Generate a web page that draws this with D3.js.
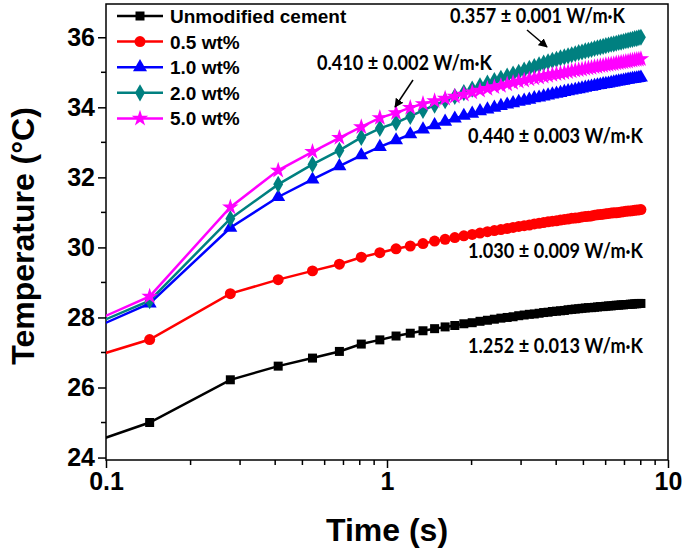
<!DOCTYPE html>
<html>
<head>
<meta charset="utf-8">
<script src="https://cdn.jsdelivr.net/npm/d3@7"></script>
<style>
  body { margin: 0; background: #fff; }
  svg { display: block; }
</style>
</head>
<body>
<svg id="chart" width="685" height="556"></svg>
<script>
// time points (s)
const times = [0.010, 0.143, 0.277, 0.410, 0.543, 0.677, 0.810, 0.943, 1.077, 1.210,
  1.343, 1.477, 1.610, 1.743, 1.877, 2.010, 2.143, 2.277, 2.410, 2.543,
  2.677, 2.810, 2.943, 3.077, 3.210, 3.343, 3.477, 3.610, 3.743, 3.877,
  4.010, 4.143, 4.277, 4.410, 4.543, 4.677, 4.810, 4.943, 5.077, 5.210,
  5.343, 5.477, 5.610, 5.743, 5.877, 6.010, 6.143, 6.277, 6.410, 6.543,
  6.677, 6.810, 6.943, 7.077, 7.210, 7.343, 7.477, 7.610, 7.743, 7.877, 8.010];

const unmodified = [21.80, 25.00, 26.22, 26.61, 26.84, 27.03, 27.24, 27.36, 27.47,
  27.55, 27.62, 27.68, 27.73, 27.77, 27.82, 27.85, 27.89, 27.92, 27.95, 27.98, 28.00,
  28.02, 28.05, 28.07, 28.09, 28.10, 28.12, 28.14, 28.15, 28.17, 28.18,
  28.19, 28.20, 28.22, 28.23, 28.24, 28.25, 28.26, 28.27, 28.28, 28.28,
  28.29, 28.30, 28.31, 28.31, 28.32, 28.33, 28.33, 28.34, 28.35, 28.35,
  28.36, 28.36, 28.37, 28.37, 28.38, 28.38, 28.39, 28.39, 28.40, 28.40];

const wt05 = [24.54, 27.37, 28.68, 29.08, 29.33, 29.52, 29.72, 29.85, 29.96,
  30.04, 30.11, 30.18, 30.23, 30.28, 30.33, 30.37, 30.41, 30.45, 30.48, 30.51, 30.54,
  30.57, 30.60, 30.62, 30.64, 30.67, 30.69, 30.71, 30.73, 30.75, 30.76,
  30.78, 30.80, 30.81, 30.83, 30.84, 30.85, 30.87, 30.88, 30.89, 30.90,
  30.92, 30.93, 30.94, 30.95, 30.96, 30.97, 30.98, 30.99, 30.99, 31.00,
  31.01, 31.02, 31.03, 31.04, 31.04, 31.05, 31.06, 31.07, 31.07, 31.08];

const wt10 = [24.30, 28.40, 30.56, 31.44, 31.94, 32.32, 32.63, 32.87, 33.06,
  33.23, 33.37, 33.49, 33.59, 33.68, 33.76, 33.82, 33.89, 33.94, 33.99, 34.04, 34.08,
  34.12, 34.16, 34.19, 34.22, 34.26, 34.28, 34.31, 34.34, 34.37, 34.39,
  34.41, 34.44, 34.46, 34.48, 34.50, 34.52, 34.54, 34.56, 34.58, 34.59,
  34.61, 34.63, 34.64, 34.66, 34.67, 34.68, 34.70, 34.71, 34.73, 34.74,
  34.75, 34.76, 34.78, 34.79, 34.80, 34.81, 34.82, 34.83, 34.84, 34.85];

const wt20 = [24.53, 28.48, 30.82, 31.80, 32.37, 32.77, 33.14, 33.40, 33.56,
  33.74, 33.91, 34.06, 34.19, 34.31, 34.42, 34.52, 34.61, 34.69, 34.76, 34.83, 34.89,
  34.95, 35.00, 35.06, 35.11, 35.16, 35.21, 35.26, 35.30, 35.34, 35.37,
  35.41, 35.44, 35.47, 35.50, 35.53, 35.56, 35.58, 35.61, 35.63, 35.65,
  35.68, 35.70, 35.72, 35.74, 35.76, 35.78, 35.80, 35.81, 35.83, 35.85,
  35.86, 35.88, 35.90, 35.91, 35.93, 35.94, 35.96, 35.97, 35.99, 36.00];

const wt50 = [24.50, 28.60, 31.15, 32.20, 32.73, 33.13, 33.44, 33.70, 33.84,
  33.99, 34.10, 34.18, 34.25, 34.31, 34.37, 34.43, 34.48, 34.53, 34.58, 34.62, 34.66,
  34.70, 34.74, 34.77, 34.80, 34.83, 34.85, 34.88, 34.90, 34.93, 34.95,
  34.97, 34.99, 35.01, 35.03, 35.05, 35.07, 35.08, 35.10, 35.12, 35.13,
  35.15, 35.16, 35.18, 35.19, 35.21, 35.22, 35.23, 35.24, 35.26, 35.27,
  35.28, 35.29, 35.30, 35.31, 35.33, 35.34, 35.35, 35.36, 35.37, 35.38];

const seriesNames = ["Unmodified cement", "0.5 wt%", "1.0 wt%", "2.0 wt%", "5.0 wt%"];
const seriesValues = [unmodified, wt05, wt10, wt20, wt50];
const seriesColors = ["#000000", "#ff0000", "#0000ff", "#008080", "#ff00ff"];

const xTickLabels = [0.1, 1, 10];
const yTickLabels = [24, 26, 28, 30, 32, 34, 36];

// thermal conductivity labels
const kLabels = ["0.357 \u00b1 0.001 W/m\u00b7K", "0.410 \u00b1 0.002 W/m\u00b7K",
  "0.440 \u00b1 0.003 W/m\u00b7K", "1.030 \u00b1 0.009 W/m\u00b7K", "1.252 \u00b1 0.013 W/m\u00b7K"];

const svg = d3.select("#chart");
const margin = { top: 4, left: 106, right: 17, bottom: 96 };
const width = 685, height = 556;

const x = d3.scaleLog().domain([0.1, 10]).range([margin.left, width - margin.right]);
const y = d3.scaleLinear().domain([23.93, 36.95]).range([height - margin.bottom, margin.top]);

const font = "'Liberation Sans', Arial, sans-serif";

// clip area
svg.append("clipPath").attr("id", "clip")
  .append("rect")
  .attr("x", margin.left).attr("y", margin.top)
  .attr("width", width - margin.left - margin.right)
  .attr("height", height - margin.top - margin.bottom);

// axes
const minorX = [0.2, 0.3, 0.4, 0.5, 0.6, 0.7, 0.8, 0.9, 2, 3, 4, 5, 6, 7, 8, 9];
const xAxis = svg.append("g").attr("transform", `translate(0, ${height - margin.bottom})`);
xAxis.call(d3.axisBottom(x).tickValues(xTickLabels).tickSize(8).tickSizeOuter(0)
  .tickFormat(d => d));
xAxis.append("g").selectAll("line").data(minorX).enter().append("line")
  .attr("x1", d => x(d)).attr("x2", d => x(d))
  .attr("y1", 0).attr("y2", 5)
  .attr("stroke", "#000").attr("stroke-width", 1.5);

const minorY = [25, 27, 29, 31, 33, 35];
const yAxis = svg.append("g").attr("transform", `translate(${margin.left}, 0)`);
yAxis.call(d3.axisLeft(y).tickValues(yTickLabels).tickSize(8).tickSizeOuter(0));
yAxis.append("g").selectAll("line").data(minorY).enter().append("line")
  .attr("y1", d => y(d)).attr("y2", d => y(d))
  .attr("x1", 0).attr("x2", -5)
  .attr("stroke", "#000").attr("stroke-width", 1.5);

[xAxis, yAxis].forEach(g => {
  g.select(".domain").remove();
  g.selectAll(".tick line").attr("stroke-width", 1.5);
  g.selectAll(".tick text")
    .style("font-family", font).style("font-weight", "bold")
    .style("font-size", "25px").attr("fill", "#000");
});
xAxis.selectAll(".tick text").attr("dy", "0.71em").attr("y", 12);
yAxis.selectAll(".tick text").attr("x", -11);

// frame
svg.append("rect")
  .attr("x", margin.left).attr("y", margin.top)
  .attr("width", width - margin.left - margin.right)
  .attr("height", height - margin.top - margin.bottom)
  .attr("fill", "none").attr("stroke", "#000").attr("stroke-width", 1.5);

// axis titles
svg.append("text")
  .attr("x", (margin.left + width - margin.right) / 2).attr("y", 541)
  .attr("text-anchor", "middle")
  .style("font-family", font).style("font-weight", "bold").style("font-size", "32px")
  .text("Time (s)");

svg.append("text")
  .attr("transform", `translate(34, ${(margin.top + height - margin.bottom) / 2 + 4}) rotate(-90)`)
  .attr("text-anchor", "middle")
  .style("font-family", font).style("font-weight", "bold").style("font-size", "32px")
  .text("Temperature (\u00b0C)");

// symbols
const symbols = [
  d3.symbol().type(d3.symbolSquare).size(81),
  d3.symbol().type(d3.symbolCircle).size(95),
  d3.symbol().type(d3.symbolTriangle).size(85),
  d3.symbol().type(d3.symbolDiamond).size(85),
  d3.symbol().type(d3.symbolStar).size(85)
];

const line = d3.line().x(d => x(d[0])).y(d => y(d[1]));
const plot = svg.append("g").attr("clip-path", "url(#clip)");

seriesValues.forEach((vals, i) => {
  const pts = times.map((t, j) => [t, vals[j]]);
  const g = plot.append("g");
  g.append("path").datum(pts)
    .attr("d", line)
    .attr("fill", "none")
    .attr("stroke", seriesColors[i])
    .attr("stroke-width", 2.5);
  g.selectAll("path.mk").data(pts).enter().append("path")
    .attr("class", "mk")
    .attr("d", symbols[i])
    .attr("transform", d => `translate(${x(d[0])}, ${y(d[1])})`)
    .attr("fill", seriesColors[i]);
});

// legend
const legend = svg.append("g");
seriesNames.forEach((name, i) => {
  const ly = 16 + i * 25.6;
  legend.append("line")
    .attr("x1", 117).attr("x2", 163).attr("y1", ly).attr("y2", ly)
    .attr("stroke", seriesColors[i]).attr("stroke-width", 2.5);
  legend.append("path")
    .attr("d", symbols[i])
    .attr("transform", `translate(140, ${ly})`)
    .attr("fill", seriesColors[i]);
  legend.append("text")
    .attr("x", 170).attr("y", ly + 7)
    .style("font-family", font).style("font-weight", "bold").style("font-size", "19px")
    .text(name);
});

// conductivity annotations
const kPos = [[450, 23], [317, 70], [468, 143], [468, 257.5], [468, 353]];
kLabels.forEach((txt, i) => {
  svg.append("text")
    .attr("x", kPos[i][0]).attr("y", kPos[i][1])
    .attr("textLength", 175).attr("lengthAdjust", "spacingAndGlyphs")
    .style("font-family", "Lato, 'Open Sans', sans-serif")
    .style("font-weight", "bold").style("font-size", "20px")
    .text(txt);
});

// arrows
svg.append("defs").append("marker")
  .attr("id", "head").attr("viewBox", "0 0 10 10")
  .attr("refX", 9).attr("refY", 5)
  .attr("markerWidth", 6).attr("markerHeight", 6)
  .attr("orient", "auto")
  .append("path").attr("d", "M0,0 L10,5 L0,10 Z").attr("fill", "#000");

const arrows = [[527, 30, 547, 47], [413, 80, 395, 107]];
arrows.forEach(a => {
  svg.append("line")
    .attr("x1", a[0]).attr("y1", a[1]).attr("x2", a[2]).attr("y2", a[3])
    .attr("stroke", "#000").attr("stroke-width", 1.5)
    .attr("marker-end", "url(#head)");
});
</script>
</body>
</html>
